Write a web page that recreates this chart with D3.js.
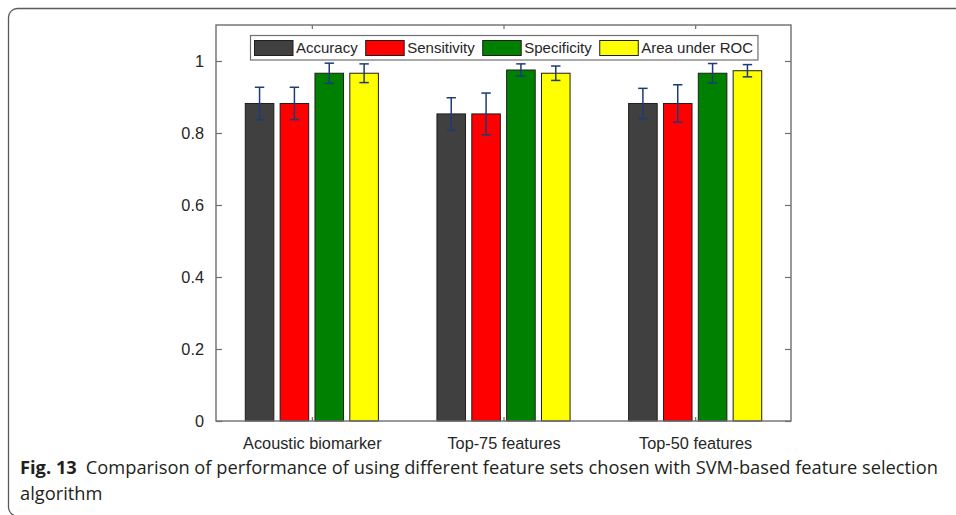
<!DOCTYPE html>
<html>
<head>
<meta charset="utf-8">
<script src="https://cdn.jsdelivr.net/npm/d3@7/dist/d3.min.js"></script>
<style>
  html, body { margin: 0; padding: 0; background: #fff; }
  svg { display: block; }
</style>
</head>
<body>
<svg id="chart" width="956" height="515"></svg>
<script>
// Feature sets (x categories)
const categories = ["Acoustic biomarker", "Top-75 features", "Top-50 features"];

// Metric names (legend order)
const seriesNames = ["Accuracy", "Sensitivity", "Specificity", "Area under ROC"];

// Mean values per feature set
const accuracy    = [0.882, 0.853, 0.882];
const sensitivity = [0.882, 0.853, 0.882];
const specificity = [0.966, 0.975, 0.966];
const aucValues   = [0.966, 0.966, 0.973];

// Error bar half-lengths
const accuracyErr    = [0.045, 0.045, 0.042];
const sensitivityErr = [0.045, 0.058, 0.052];
const specificityErr = [0.028, 0.017, 0.027];
const aucErr         = [0.026, 0.020, 0.017];

// Y-axis ticks
const yTicks = [0, 0.2, 0.4, 0.6, 0.8, 1];

const seriesColors = ["#404040", "#ff0000", "#008000", "#ffff00"];
const seriesValues = [accuracy, sensitivity, specificity, aucValues];
const seriesErrors = [accuracyErr, sensitivityErr, specificityErr, aucErr];

const svg = d3.select("#chart");

// Outer figure frame (runs past the right and bottom edges)
svg.append("rect")
  .attr("x", 8.5).attr("y", 8.5)
  .attr("width", 1000).attr("height", 507.5)
  .attr("rx", 9).attr("ry", 9)
  .attr("fill", "#fff")
  .attr("stroke", "#5a5a5a")
  .attr("stroke-width", 1.3);

const plot = { left: 216, right: 791, top: 25, bottom: 421 };

const x = d3.scaleLinear().domain([0.5, categories.length + 0.5]).range([plot.left, plot.right]);
const y = d3.scaleLinear().domain([0, 1.1]).range([plot.bottom, plot.top]);

const nSeries = seriesNames.length;
const groupWidth = Math.min(0.8, nSeries / (nSeries + 1.5));
const slot = groupWidth / nSeries;
const barWidth = slot * 0.82;

const fontAxis = "'Liberation Sans', Arial, sans-serif";

// Bars
const g = svg.append("g");
seriesValues.forEach((vals, s) => {
  const offset = (s - (nSeries - 1) / 2) * slot;
  g.selectAll(null)
    .data(vals)
    .join("rect")
    .attr("x", (d, i) => x(i + 1 + offset - barWidth / 2))
    .attr("width", (d, i) => x(i + 1 + offset + barWidth / 2) - x(i + 1 + offset - barWidth / 2))
    .attr("y", d => y(d))
    .attr("height", d => y(0) - y(d))
    .attr("fill", seriesColors[s])
    .attr("stroke", "#1e1e1e")
    .attr("stroke-width", 1);
});

// Error bars
const errColor = "#1c3b78";
seriesValues.forEach((vals, s) => {
  const offset = (s - (nSeries - 1) / 2) * slot;
  const errs = seriesErrors[s];
  vals.forEach((v, i) => {
    const cx = x(i + 1 + offset);
    const yt = y(v + errs[i]);
    const yb = y(v - errs[i]);
    const cap = 4.7;
    g.append("line").attr("x1", cx).attr("x2", cx).attr("y1", yt).attr("y2", yb)
      .attr("stroke", errColor).attr("stroke-width", 1.5);
    [yt, yb].forEach(yy => {
      g.append("line").attr("x1", cx - cap).attr("x2", cx + cap).attr("y1", yy).attr("y2", yy)
        .attr("stroke", errColor).attr("stroke-width", 1.5);
    });
  });
});

// Axes (inward ticks, boxed)
const axisColor = "#6e6e6e";
const yAxisL = d3.axisLeft(y).tickValues(yTicks).tickSize(-6).tickPadding(12)
  .tickFormat(d => d3.format("~g")(d));
const yAxisR = d3.axisRight(y).tickValues(yTicks).tickSize(-6).tickFormat("");
const xAxisB = d3.axisBottom(x).tickValues(categories.map((c, i) => i + 1)).tickSize(-4).tickPadding(16)
  .tickFormat((d) => categories[d - 1]);
const xAxisT = d3.axisTop(x).tickValues(categories.map((c, i) => i + 1)).tickSize(-4).tickFormat("");

function styleAxis(sel) {
  sel.select(".domain").remove();
  sel.selectAll(".tick line").attr("stroke", axisColor).attr("stroke-width", 1.2);
  sel.selectAll(".tick text").attr("fill", "#262626")
    .style("font-family", fontAxis).style("font-size", "16.3px");
}

svg.append("g").attr("transform", `translate(${plot.left},0)`).call(yAxisL).call(styleAxis);
svg.append("g").attr("transform", `translate(${plot.right},0)`).call(yAxisR).call(styleAxis);
svg.append("g").attr("transform", `translate(0,${plot.bottom})`).call(xAxisB).call(styleAxis);
svg.append("g").attr("transform", `translate(0,${plot.top})`).call(xAxisT).call(styleAxis);

svg.append("rect")
  .attr("x", plot.left).attr("y", plot.top)
  .attr("width", plot.right - plot.left).attr("height", plot.bottom - plot.top)
  .attr("fill", "none").attr("stroke", axisColor).attr("stroke-width", 1.4);

// Legend
const legend = svg.append("g");
const legBox = legend.append("rect")
  .attr("x", 250.5).attr("y", 35.5).attr("height", 24.5)
  .attr("fill", "#fff").attr("stroke", "#707070").attr("stroke-width", 1.2);
let lx = 254.5;
seriesNames.forEach((name, s) => {
  legend.append("rect")
    .attr("x", lx).attr("y", 40.5).attr("width", 38.5).attr("height", 15)
    .attr("fill", seriesColors[s]).attr("stroke", "#1e1e1e").attr("stroke-width", 1);
  const t = legend.append("text")
    .attr("x", lx + 41.5).attr("y", 53)
    .attr("fill", "#262626")
    .style("font-family", fontAxis).style("font-size", "15px")
    .text(name);
  lx += 41.5 + t.node().getComputedTextLength() + 8;
});
legBox.attr("width", lx - 8 + 5 - 250.5);

// Caption
const capFont = "'Open Sans', 'Noto Sans', sans-serif";
const cap = svg.append("text")
  .attr("x", 20).attr("y", 474)
  .attr("fill", "#231f20")
  .style("font-family", capFont).style("font-size", "18.3px");
cap.append("tspan").style("font-weight", "bold").text("Fig. 13");
cap.append("tspan").attr("dx", 9).text("Comparison of performance of using different feature sets chosen with SVM-based feature selection");
svg.append("text")
  .attr("x", 20).attr("y", 500)
  .attr("fill", "#231f20")
  .style("font-family", capFont).style("font-size", "18.3px")
  .text("algorithm");
</script>
</body>
</html>
